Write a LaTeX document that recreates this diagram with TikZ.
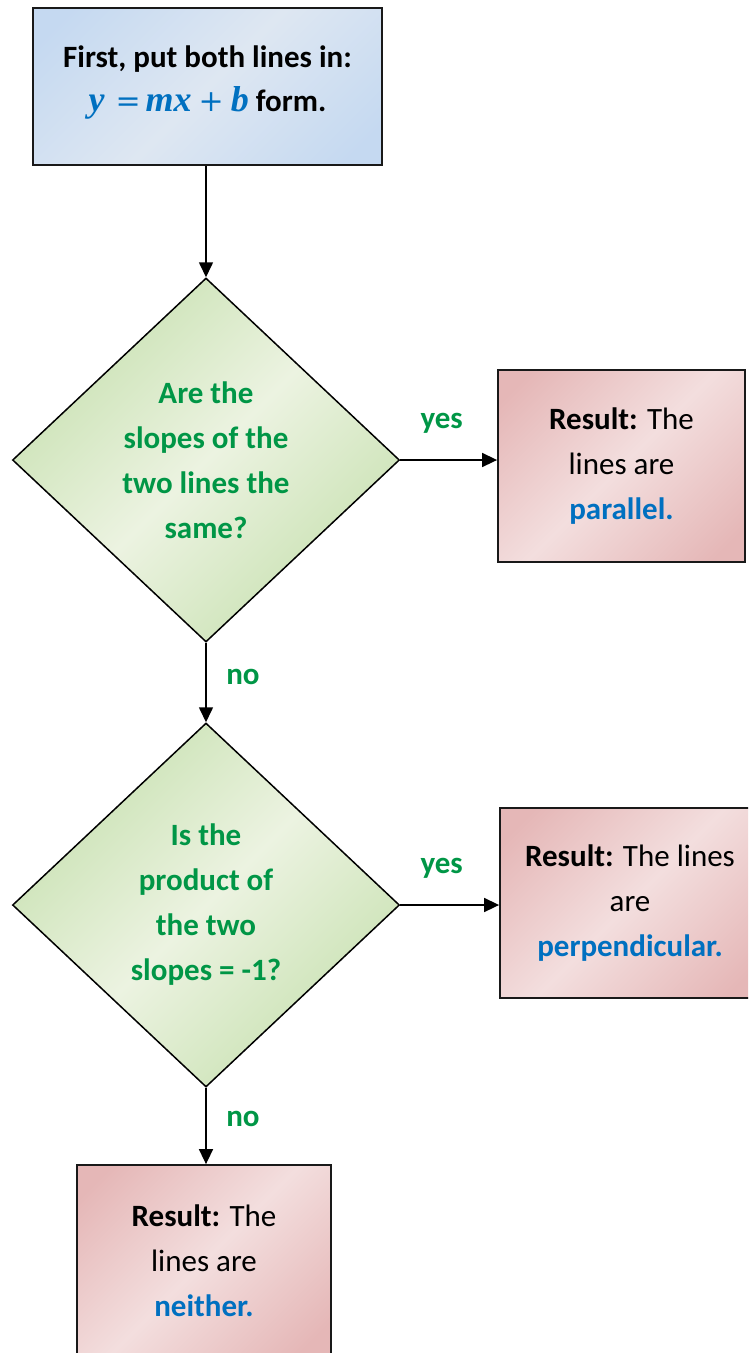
\documentclass[tikz,border=0pt]{standalone}
\usepackage{fontspec}
\setmainfont{Carlito}
\newfontfamily\eqfont{Liberation Serif}
\newfontfamily\opfont{DejaVu Serif}
\usetikzlibrary{shapes.geometric,arrows.meta}
\definecolor{mblue}{RGB}{0,112,192}
\definecolor{mgreen}{RGB}{0,150,70}
\definecolor{blueD}{RGB}{197,217,241}
\definecolor{blueL}{RGB}{222,231,242}
\definecolor{greenD}{RGB}{196,223,172}
\definecolor{greenL}{RGB}{236,243,225}
\definecolor{redD}{RGB}{229,183,183}
\definecolor{redL}{RGB}{243,222,222}
\pgfdeclarehorizontalshading{blueshade}{100bp}{color(0bp)=(blueD); color(20bp)=(blueD); color(50bp)=(blueL); color(80bp)=(blueD); color(100bp)=(blueD)}
\pgfdeclarehorizontalshading{greenshade}{100bp}{color(0bp)=(greenD); color(22bp)=(greenD); color(50bp)=(greenL); color(78bp)=(greenD); color(100bp)=(greenD)}
\pgfdeclarehorizontalshading{redshade}{100bp}{color(0bp)=(redD); color(20bp)=(redD); color(50bp)=(redL); color(80bp)=(redD); color(100bp)=(redD)}
\newcommand{\eqvar}[1]{{\fontsize{36}{45}\eqfont\bfseries\itshape #1}}
\newcommand{\eqop}[1]{{\fontsize{30}{45}\opfont #1}}
\tikzset{
  basefont/.style={font=\fontsize{31}{45}\selectfont},
  topbox/.style={basefont, draw=black!90, line width=1.8pt, shading=blueshade, shading angle=-45, minimum width=349pt, minimum height=157pt, align=center, inner sep=0pt},
  dia/.style={diamond, draw=black, line width=1.5pt, shading=greenshade, shading angle=-45, minimum width=387pt, minimum height=364pt, align=center, inner sep=0pt, text=mgreen, font=\fontsize{31}{45}\selectfont\bfseries},
  resbox/.style={basefont, draw=black!90, line width=1.8pt, shading=redshade, shading angle=-45, align=center, inner sep=0pt},
  arr/.style={line width=1.6pt, -{Triangle[length=15pt,width=14pt]}},
  lbl/.style={text=mgreen, font=\fontsize{31}{45}\selectfont\bfseries, inner sep=0pt}
}
\begin{document}
\begin{tikzpicture}[x=1pt,y=-1pt]
\path[use as bounding box] (0,0) rectangle (748,1353);
\fill[white] (0,0) rectangle (748,1353);
\clip (0,0) rectangle (748,1353);
\node[topbox] (start) at (207.5,86.5) {\textbf{First, put both lines in:}\\[-1pt] {\color{mblue}\eqvar{y}\hspace{11pt}\eqop{=}\hspace{5pt}\eqvar{mx}\hspace{7pt}\eqop{+}\hspace{7pt}\eqvar{b}} \textbf{form.}\\[-30pt]\mbox{}};
\node[dia] (d1) at (206,460) {Are the\\ slopes of the\\ two lines the\\ same?};
\node[dia] (d2) at (206,905) {Is the\\ product of\\ the two\\ slopes = -1?};
\node[resbox, minimum width=247pt, minimum height=192pt] (r1) at (621.5,466) {\textbf{Result:} The\\ lines are\\ \textbf{\color{mblue}parallel.}};
\node[resbox, minimum width=260pt, minimum height=190pt] (r2) at (630,903) {\textbf{Result:} The lines\\ are\\ \textbf{\color{mblue}perpendicular.}};
\node[resbox, minimum width=254pt, minimum height=192pt] (r3) at (204,1261) {\textbf{Result:} The\\ lines are\\ \textbf{\color{mblue}neither.}};
\draw[arr] (d1.north |- start.south) -- (d1.north);
\draw[arr] (d1.east) -- (d1.east -| r1.west) node[lbl, midway, xshift=-7pt, yshift=37pt] {yes};
\draw[arr] (d1.south) -- (d2.north) node[lbl, midway, xshift=37pt, yshift=6pt] {no};
\draw[arr] (d2.east) -- (d2.east -| r2.west) node[lbl, midway, xshift=-8pt, yshift=37pt] {yes};
\draw[arr] (d2.south) -- (d2.south |- r3.north) node[lbl, midway, xshift=37pt, yshift=7pt] {no};
\end{tikzpicture}
\end{document}
